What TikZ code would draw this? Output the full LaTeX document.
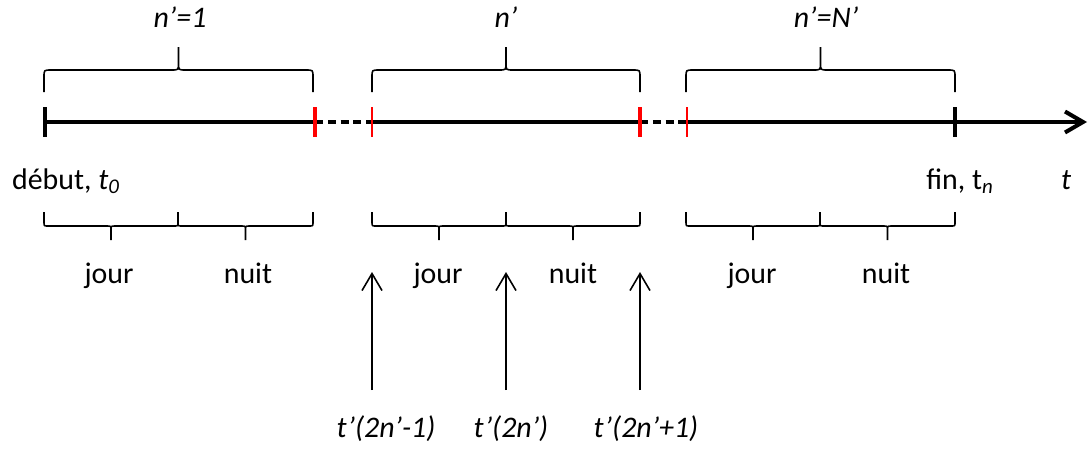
\documentclass[tikz,border=0pt]{standalone}
\usepackage{fontspec}
\setmainfont{Carlito}
\usetikzlibrary{arrows.meta}

\begin{document}
\begin{tikzpicture}[x=0.02cm,y=-0.02cm,line width=0.9pt,
  every node/.style={font=\fontsize{17}{20}\selectfont,inner sep=0pt},
  axe/.style={line width=2.3pt},
  pointille/.style={line width=2pt,dash pattern=on 4.5pt off 2.8pt},
  fleche/.style={-{Straight Barb[length=0.34cm,width=0.4cm]}}]
  \useasboundingbox (0,0) rectangle (1088,454);
  % axe du temps
  \coordinate (debut) at (45,122);
  \coordinate (r1) at (315,122);
  \coordinate (r2) at (372,122);
  \coordinate (r3) at (640,122);
  \coordinate (r4) at (687,122);
  \coordinate (fin) at (955,122);
  \coordinate (bout) at (1087,122);
  \draw[axe] (debut) -- (r1);
  \draw[pointille] (r1) -- (r2);
  \draw[axe] (r2) -- (r3);
  \draw[pointille] (r3) -- (r4);
  \draw[axe,-{Straight Barb[length=0.36cm,width=0.42cm]}] (r4) -- (bout);
  \foreach \x in {45,955}
    \draw[line width=2.3pt] (\x,107) -- (\x,137);
  \foreach \x/\w in {315/2pt,372/1.2pt,640/2pt,687/1.2pt}
    \draw[red,line width=\w] (\x,107) -- (\x,137);
  % accolades du haut
  \foreach \a/\b [evaluate=\a as \m using (\a+\b)/2] in {44/313,372/640,686/955}
    \draw (\a,92) -- (\a,77) .. controls (\a,70) .. (\a+7,70) -- (\m-7,70)
      .. controls (\m,70) .. (\m,63) -- (\m,47)
      (\m,63) .. controls (\m,70) .. (\m+7,70) -- (\b-7,70)
      .. controls (\b,70) .. (\b,77) -- (\b,92);
  \node[anchor=base] (per1) at (180,27) {\itshape n’=1};
  \node[anchor=base] (per) at (506,27) {\itshape n’};
  \node[anchor=base] (perN) at (826,27) {\itshape n’=N’};
  % accolades du bas
  \foreach \a/\b [evaluate=\a as \m using (\a+\b)/2] in {44/178,178/313,372/506,506/640,686/820,820/955}
    \draw (\a,212) -- (\a,222) .. controls (\a,226) .. (\a+4,226) -- (\m-4,226)
      .. controls (\m,226) .. (\m,230) -- (\m,240)
      (\m,230) .. controls (\m,226) .. (\m+4,226) -- (\b-4,226)
      .. controls (\b,226) .. (\b,222) -- (\b,212);
  \foreach \x/\nom/\txt in {109/j1/jour,248/n1/nuit,438/j2/jour,573/n2/nuit,752/j3/jour,886/n3/nuit}
    \node[anchor=base] (\nom) at (\x,283) {\txt};
  \node[anchor=base] (tdebut) at (66,189) {début, \textit{t}\textsubscript{\textit{0}}};
  \node[anchor=base] (tfin) at (960,189) {fin, t\textsubscript{\textit{n}}};
  \node[anchor=base] (t) at (1066,189) {\itshape t};
  % instants
  \foreach \x/\nom in {372/a,506/b,640/c} {
    \coordinate (pied\nom) at (\x,390);
    \coordinate (tete\nom) at (\x,272);
    \draw[fleche] (pied\nom) -- (tete\nom);
  }
  \node[anchor=base] (ta) at (386,437) {\itshape t’(2n’-1)};
  \node[anchor=base] (tb) at (511,437) {\itshape t’(2n’)};
  \node[anchor=base] (tc) at (646,437) {\itshape t’(2n’+1)};
\end{tikzpicture}
\end{document}
